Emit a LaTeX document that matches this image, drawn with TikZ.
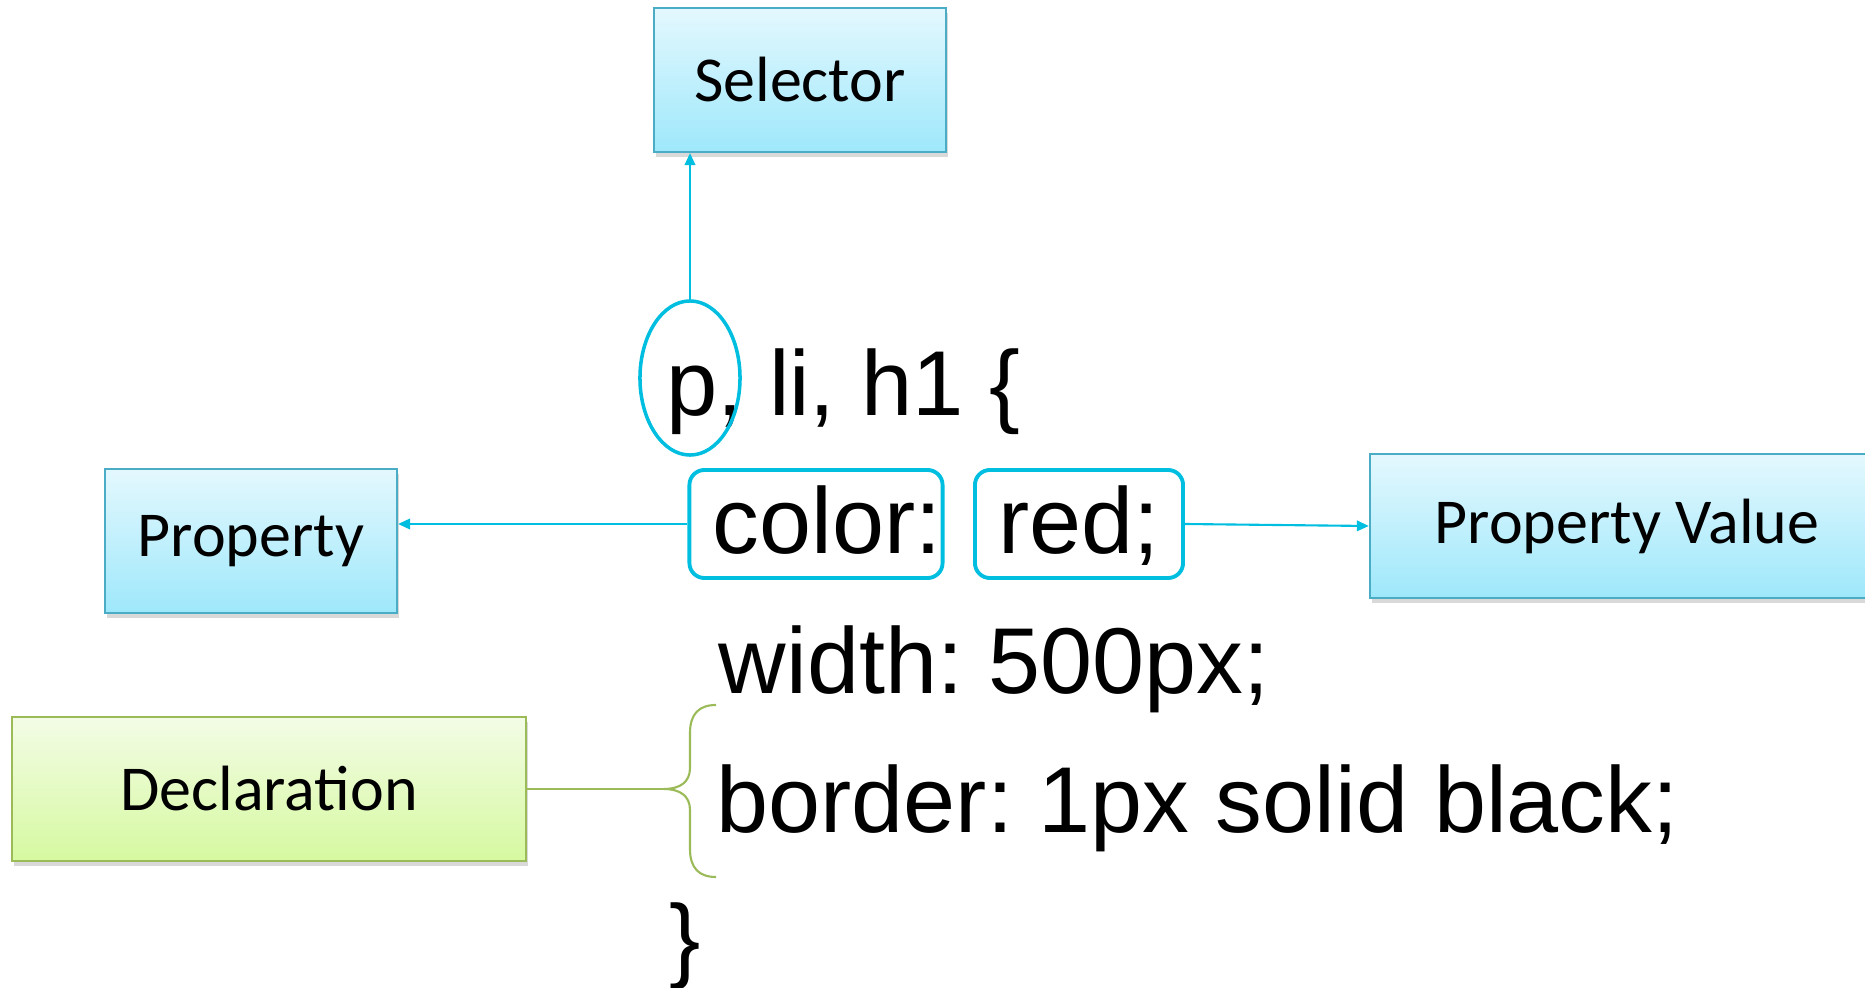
\documentclass[tikz,border=0pt]{standalone}
\usepackage{fontspec}
\usepackage{tikz}
\usetikzlibrary{shapes.geometric, arrows.meta, positioning, shadows}

\newfontfamily\codefont{Liberation Sans}
\newfontfamily\boxfont{Carlito}
\frenchspacing

\definecolor{cssblue}{RGB}{0,190,224}
\definecolor{boxedge}{RGB}{75,172,198}
\definecolor{boxtop}{RGB}{228,248,254}
\definecolor{boxbottom}{RGB}{158,232,251}
\definecolor{decledge}{RGB}{155,187,89}
\definecolor{decltop}{RGB}{243,252,230}
\definecolor{declbottom}{RGB}{214,249,160}

\begin{document}
\begin{tikzpicture}[x=0.01cm, y=-0.01cm]
    % Define styles for the boxes and the code
    \tikzstyle{tagbox} = [rectangle, minimum width=2.92cm, minimum height=1.44cm, text centered, draw=boxedge, line width=0.6pt, top color=boxtop, bottom color=boxbottom, font=\boxfont\fontsize{18.2pt}{22pt}\selectfont, drop shadow={opacity=0.3, shadow xshift=0.02cm, shadow yshift=-0.05cm}]
    \tikzstyle{declbox} = [tagbox, minimum width=5.14cm, draw=decledge, top color=decltop, bottom color=declbottom]
    \tikzstyle{code} = [anchor=base west, inner sep=0, font=\codefont\fontsize{26.6pt}{32pt}\selectfont]
    \tikzstyle{codebox} = [rectangle, rounded corners=0.15cm, minimum height=1.08cm, inner sep=0, text height=0.70cm, text depth=0.12cm, draw=cssblue, line width=1.1pt, font=\codefont\fontsize{26.6pt}{32pt}\selectfont]
    \tikzstyle{arrow} = [draw=cssblue, line width=0.6pt, -{Triangle[length=3.4pt, width=3pt]}]

    \useasboundingbox (0,0) rectangle (1865,988);

    % Label boxes
    \node (selector) [tagbox] at (800,80) {Selector};
    \node (property) [tagbox] at (251,541) {Property};
    \node (value) [tagbox, minimum width=5.14cm] at (1627,526) {Property Value};
    \node (declaration) [declbox] at (269,789) {Declaration};

    % The CSS rule
    \node (rule) [code, font=\codefont\fontsize{26.2pt}{32pt}\selectfont] at (666,416) {p, li, h1 \{};
    \node (propcode) [codebox, text width=2.51cm, inner xsep=0.01cm, align=right] at (816,524) {color:};
    \node (valcode) [codebox, minimum width=2.08cm] at (1079,524) {red;};
    \node (widthline) [code] at (718,693) {width: 500px;};
    \node (borderline) [code] at (716,833) {border: 1px solid black;};
    \node (closing) [code] at (669,971) {\}};

    % Marker round the selector
    \node (selmark) [ellipse, draw=cssblue, line width=1pt, minimum width=1.0cm, minimum height=1.54cm, inner sep=0] at (690,378) {};

    % Brace over the declarations
    \coordinate (bracetip) at (664,789);
    \draw [decledge, line width=0.6pt] (716,705) .. controls (699,705) and (690,714) .. (690,733) -- (690,768)
        .. controls (690,782) and (680,789) .. (bracetip)
        .. controls (680,789) and (690,796) .. (690,810) -- (690,849)
        .. controls (690,868) and (699,877) .. (716,877);

    % Connectors
    \draw [arrow] (selmark.north) -- (selmark.north |- selector.south);
    \draw [arrow] (propcode.west) -- (propcode.west -| property.east);
    \draw [arrow] (valcode.east) -- (value.west);
    \draw [decledge, line width=0.6pt] (declaration.east) -- (bracetip);

\end{tikzpicture}
\end{document}
